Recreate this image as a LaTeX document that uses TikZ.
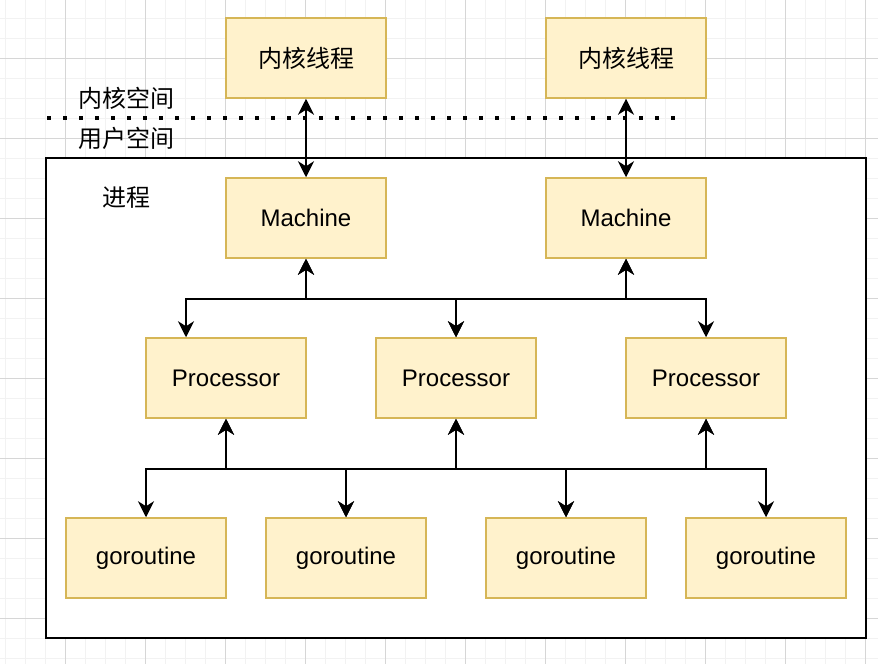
\documentclass[tikz,border=0pt]{standalone}
\usepackage{fontspec}
\setmainfont{Liberation Sans}
\newfontfamily\cjk{Noto Sans CJK SC}
\usetikzlibrary{arrows.meta,calc}
\definecolor{boxfill}{HTML}{FFF2CC}
\definecolor{boxline}{HTML}{D6B656}
\definecolor{gminor}{HTML}{F2F2F2}
\definecolor{gmajor}{HTML}{D6D6D6}
\begin{document}
\begin{tikzpicture}[x=1pt,y=-1pt,
  >={Stealth[length=16pt,width=16pt,inset=5pt]},
  boxnode/.style={draw=boxline, fill=boxfill, line width=1.5pt, minimum width=160pt, minimum height=80pt, inner sep=0pt, font=\fontsize{24}{28}\selectfont},
  cjkbox/.style={boxnode, font=\cjk\fontsize{24}{28}\selectfont},
  conn/.style={line width=2pt, <->},
  lbl/.style={inner sep=0pt, font=\cjk\fontsize{24}{28}\selectfont},
  gminorline/.style={draw=gminor, line width=1pt},
  gmajorline/.style={draw=gmajor, line width=1pt}]
\useasboundingbox (0,0) rectangle (878,664);
\fill[white] (0,0) rectangle (878,664);
% grid
\foreach \i in {0,...,43} \draw[gminorline] ({5+20*\i},0) -- ({5+20*\i},664);
\foreach \j in {0,...,32} \draw[gminorline] (0,{18+20*\j}) -- (878,{18+20*\j});
\foreach \i in {0,...,10} \draw[gmajorline] ({65+80*\i},0) -- ({65+80*\i},664);
\foreach \j in {0,...,7} \draw[gmajorline] (0,{58+80*\j}) -- (878,{58+80*\j});
% process container
\node[draw=black, fill=white, line width=2pt, minimum width=820pt, minimum height=480pt, inner sep=0pt] (proc) at (456,398) {};
% boxes
\node[cjkbox] (k1) at (306,58) {内核线程};
\node[cjkbox] (k2) at (626,58) {内核线程};
\node[boxnode] (m1) at (306,218) {Machine};
\node[boxnode] (m2) at (626,218) {Machine};
\node[boxnode] (p1) at (226,378) {Processor};
\node[boxnode] (p2) at (456,378) {Processor};
\node[boxnode] (p3) at (706,378) {Processor};
\node[boxnode] (g1) at (146,558) {goroutine};
\node[boxnode] (g2) at (346,558) {goroutine};
\node[boxnode] (g3) at (566,558) {goroutine};
\node[boxnode] (g4) at (766,558) {goroutine};
% labels
\node[lbl] (kspace) at (126,98) {内核空间};
\node[lbl] (uspace) at (126,138) {用户空间};
\node[lbl] (proclbl) at (126,198) {进程};
% dotted divider
\coordinate (dl) at (47,118);
\coordinate (dr) at (678,118);
\draw[line width=4pt, dash pattern=on 4pt off 12pt] (dl) -- (dr);
% connectors
\draw[conn] (k1.south) -- (m1.north);
\draw[conn] (k2.south) -- (m2.north);
\coordinate (p1in) at ($(p1.north)+(-40,0)$);
\draw[conn] (m1.south) -- ++(0,40) -| (p1in);
\draw[conn] (m1.south) -- ++(0,40) -| (p2.north);
\draw[conn] (m2.south) -- ++(0,40) -| (p2.north);
\draw[conn] (m2.south) -- ++(0,40) -| (p3.north);
\draw[conn] (p1.south) -- ++(0,50) -| (g1.north);
\draw[conn] (p1.south) -- ++(0,50) -| (g2.north);
\draw[conn] (p2.south) -- ++(0,50) -| (g2.north);
\draw[conn] (p2.south) -- ++(0,50) -| (g3.north);
\draw[conn] (p3.south) -- ++(0,50) -| (g3.north);
\draw[conn] (p3.south) -- ++(0,50) -| (g4.north);
\end{tikzpicture}
\end{document}
